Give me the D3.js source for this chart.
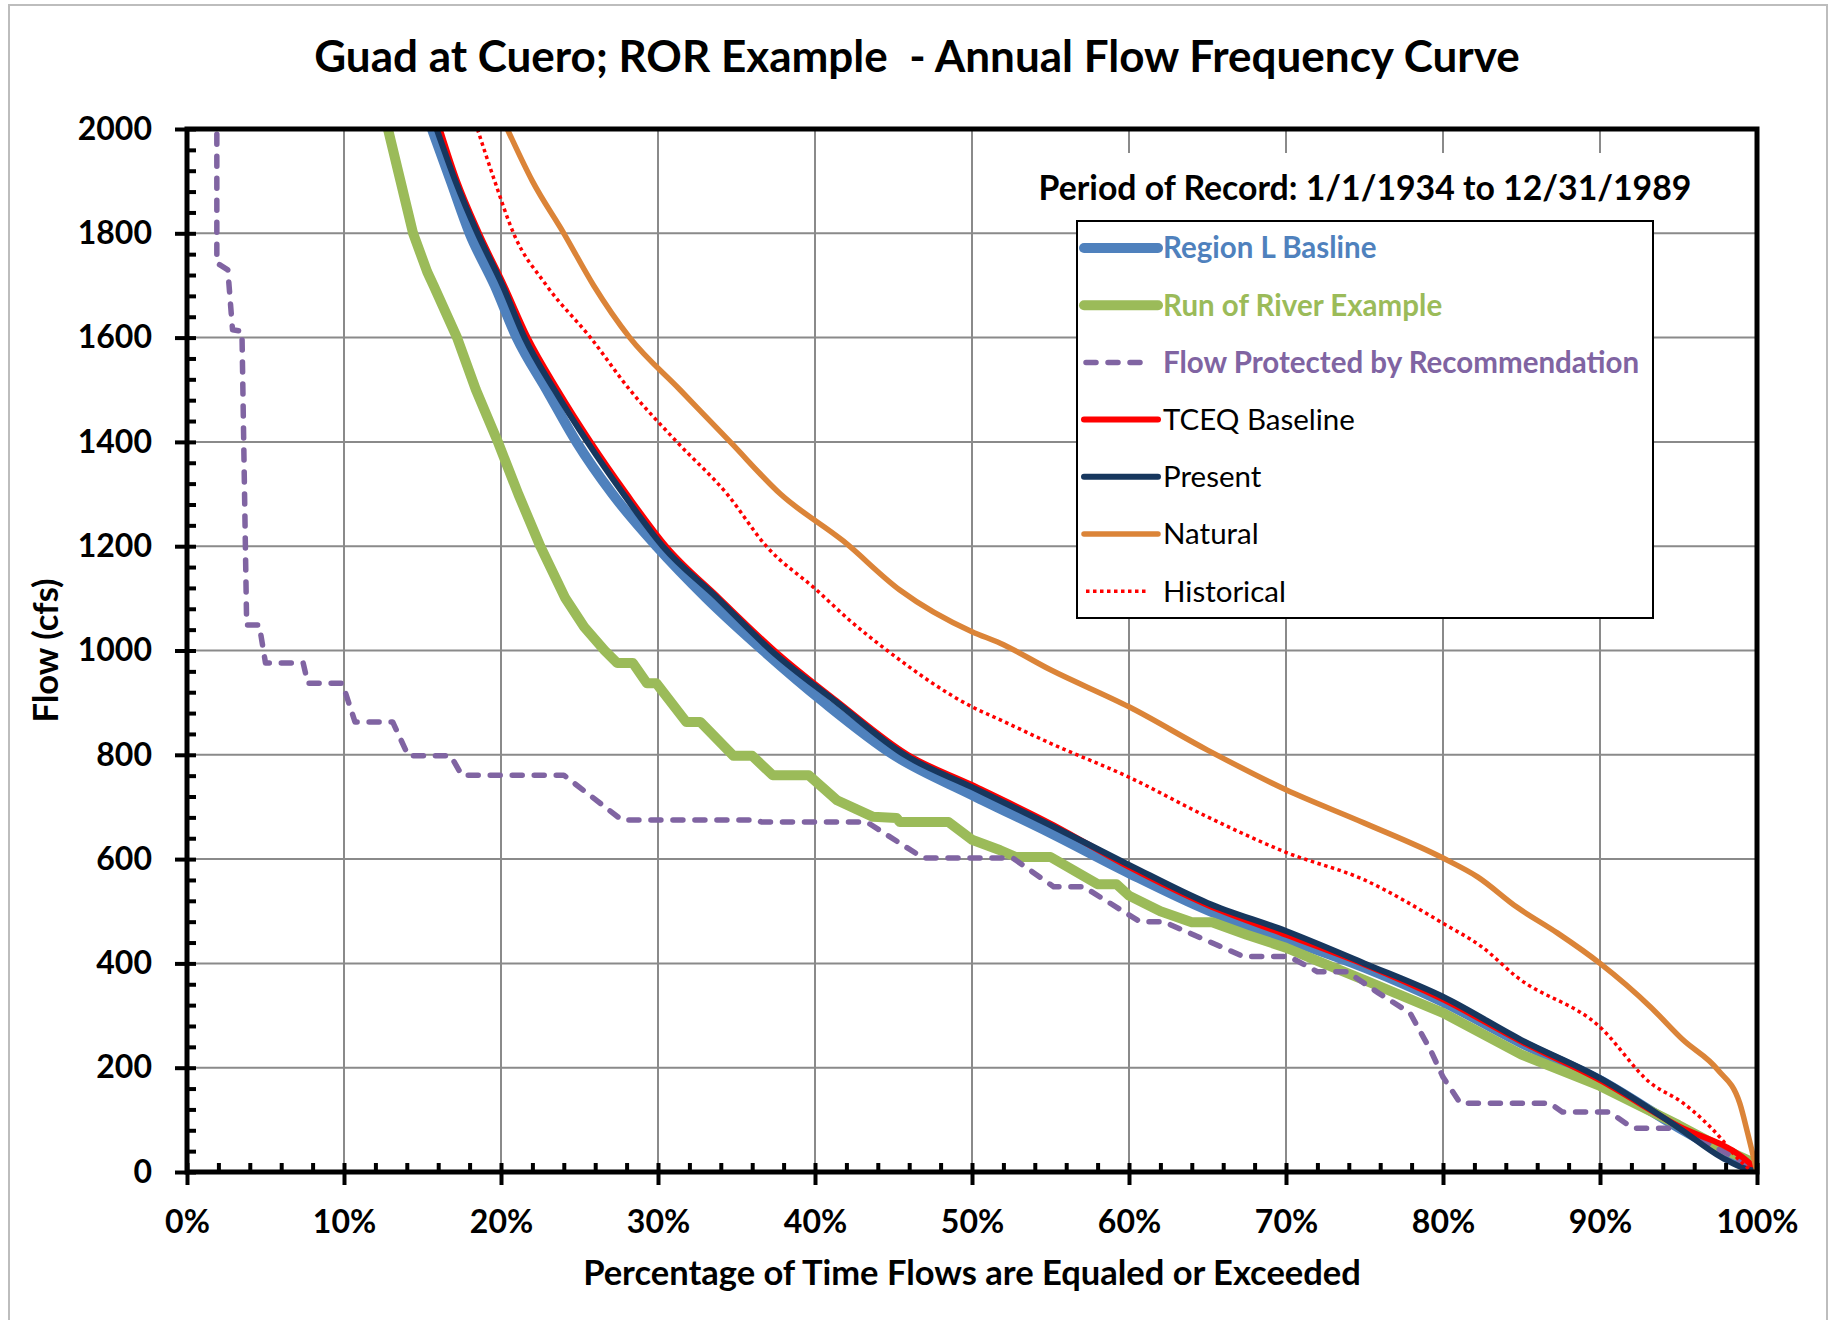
<!DOCTYPE html>
<html>
<head>
<meta charset="utf-8">
<title>Annual Flow Frequency Curve</title>
<script src="https://d3js.org/d3.v7.min.js"></script>
<style>
  body { margin: 0; background: #fff; }
  text { font-family: Lato, "Open Sans", sans-serif; }
</style>
</head>
<body>
<svg id="chart" width="1833" height="1320"></svg>
<script>
// percent of time exceeded / flow (cfs) pairs for each series
var regionPct  = [15.6, 16.8, 18.0, 19.6, 21.0, 22.9, 24.8, 27.1, 29.9, 33.1, 36.7, 40.6, 45.0, 50, 55, 60, 65, 70, 75, 80, 85, 90, 95, 98, 100];
var regionFlow = [2000, 1900, 1800, 1700, 1600, 1500, 1400, 1300, 1200, 1100, 1000, 900, 800, 723, 650, 573, 502, 447, 392, 326, 247, 176, 85, 35, 5];

var rorPct  = [12.8, 13.6, 14.4, 15.3, 15.7, 17.2, 18.4, 19.8, 21.1, 22.5, 24.1, 25.3, 26.6, 27.4, 28.4, 29.3, 29.9, 31.8, 32.7, 34.8, 36.0, 37.3, 39.6, 41.4, 43.7, 45.2, 45.4, 48.5, 50, 51.8, 52.8, 55.0, 58.0, 59.2, 60, 62, 64.0, 65.3, 67.5, 70, 72, 75, 80, 85, 90, 95, 98, 100];
var rorFlow = [2000, 1900, 1800, 1726, 1700, 1600, 1500, 1400, 1300, 1200, 1100, 1045, 1000, 976, 976, 937, 937, 863, 863, 798, 798, 761, 761, 713, 681, 679, 671, 671, 637, 617, 604, 604, 552, 552, 530, 500, 479, 479, 455, 430, 405, 368, 305, 225, 165, 90, 42, 15];

var protPct  = [1.9, 1.9, 2.6, 2.9, 3.5, 3.8, 4.6, 5.0, 7.4, 7.7, 9.9, 10.7, 13.1, 14.1, 16.8, 17.5, 24.0, 27.7, 36.3, 36.6, 43.3, 46.9, 52.6, 55.2, 57.1, 60.7, 62.2, 67.3, 70.2, 72.0, 73.9, 75.9, 77.9, 79.2, 80.0, 81.1, 86.8, 87.6, 90.6, 92.1, 95.1, 97.5, 100];
var protFlow = [1990, 1743, 1730, 1615, 1612, 1049, 1049, 976, 976, 937, 937, 863, 863, 798, 798, 761, 761, 675, 675, 671, 671, 602, 602, 547, 547, 480, 480, 413, 413, 384, 384, 343, 305, 234, 182, 132, 132, 115, 115, 84, 84, 45, 5];

var tceqPct  = [16.1, 17.2, 18.6, 20.2, 21.7, 23.6, 25.7, 28.0, 30.5, 33.9, 37.4, 41.5, 45.9, 50, 55, 60, 65, 70, 75, 80, 85, 90, 95, 99, 100];
var tceqFlow = [2000, 1900, 1800, 1700, 1600, 1500, 1400, 1300, 1200, 1100, 1000, 900, 800, 742, 668, 585, 512, 455, 398, 331, 250, 176, 88, 30, 5];

var presentPct  = [15.9, 17.1, 18.5, 20.1, 21.5, 23.4, 25.5, 27.8, 30.3, 33.8, 37.2, 41.4, 45.7, 50, 55, 60, 65, 70, 75, 80, 85, 90, 95, 97.8, 99.4, 100];
var presentFlow = [2000, 1900, 1800, 1700, 1600, 1500, 1400, 1300, 1200, 1100, 1000, 900, 800, 738, 665, 589, 516, 462, 400, 336, 253, 180, 85, 27, 5, 2];

var naturalPct  = [20.4, 22.0, 24.0, 25.9, 28.2, 31.4, 34.6, 37.8, 41.8, 45.4, 50, 51.8, 55, 60, 65, 70, 75, 80, 82.2, 84.7, 87.3, 90, 93.2, 95.3, 97.5, 98.9, 99.4, 100];
var naturalFlow = [2000, 1900, 1800, 1700, 1600, 1500, 1400, 1300, 1210, 1116, 1036, 1014, 963, 892, 809, 733, 669, 602, 566, 508, 458, 400, 317, 253, 196, 132, 75, 0];

var histPct  = [18.5, 19.6, 20.8, 22.9, 25.7, 28.2, 31.2, 34.4, 36.9, 40.1, 42.2, 44.6, 50, 51.8, 55, 60, 65, 70, 75, 80, 82.5, 84.7, 90, 93.2, 95.3, 97.8, 98.5, 99.7];
var histFlow = [2000, 1900, 1800, 1700, 1600, 1500, 1400, 1300, 1200, 1116, 1058, 1000, 892, 867, 822, 757, 681, 613, 560, 477, 431, 374, 278, 171, 132, 61, 35, 0];

var seriesNames = ["Region L Basline", "Run of River Example", "Flow Protected by Recommendation",
                   "TCEQ Baseline", "Present", "Natural", "Historical"];
var xTicks = [0, 10, 20, 30, 40, 50, 60, 70, 80, 90, 100];
var yTicks = [0, 200, 400, 600, 800, 1000, 1200, 1400, 1600, 1800, 2000];

var chartTitle = "Guad at Cuero; ROR Example  - Annual Flow Frequency Curve";
var periodText = "Period of Record: 1/1/1934 to 12/31/1989";

function zip(a, b) { return a.map(function(v, i) { return [v, b[i]]; }); }

// draw order and styling, same order as the legend.
// stepped series stay linear so the flat runs keep their corners
var series = [
  {name: seriesNames[0], pts: zip(regionPct, regionFlow),   color: "#4F81BD", width: 10,  dash: null,      smooth: true,  txt: "#4F81BD", bold: true},
  {name: seriesNames[1], pts: zip(rorPct, rorFlow),         color: "#9BBB59", width: 10,  dash: null,      smooth: false, txt: "#9BBB59", bold: true},
  {name: seriesNames[2], pts: zip(protPct, protFlow),       color: "#8064A2", width: 5.5, dash: "10,12",   smooth: false, txt: "#8064A2", bold: true},
  {name: seriesNames[3], pts: zip(tceqPct, tceqFlow),       color: "#FF0000", width: 6,   dash: null,      smooth: true,  txt: "#000", bold: false},
  {name: seriesNames[4], pts: zip(presentPct, presentFlow), color: "#17375E", width: 6,   dash: null,      smooth: true,  txt: "#000", bold: false},
  {name: seriesNames[5], pts: zip(naturalPct, naturalFlow), color: "#DB8438", width: 5.5, dash: null,      smooth: true,  txt: "#000", bold: false},
  {name: seriesNames[6], pts: zip(histPct, histFlow),       color: "#FF0000", width: 3.5, dash: "3.5,3.5", smooth: true,  txt: "#000", bold: false}
];

var svg = d3.select("#chart");

var plot = {left: 187, right: 1757, top: 129, bottom: 1172};

var x = d3.scaleLinear().domain([0, 100]).range([plot.left, plot.right]);
var y = d3.scaleLinear().domain([0, 2000]).range([plot.bottom, plot.top]);

// outer chart border
svg.append("rect")
  .attr("x", 9).attr("y", 5)
  .attr("width", 1818).attr("height", 1340)
  .attr("fill", "white")
  .attr("stroke", "#bdbdbd").attr("stroke-width", 2);

// title
svg.append("text")
  .attr("x", 917).attr("y", 72)
  .attr("text-anchor", "middle")
  .style("white-space", "pre")
  .style("font-size", "44px").style("font-weight", "bold")
  .text(chartTitle);

// gridlines
svg.append("g").selectAll("line")
  .data(xTicks.slice(1, -1))
  .enter().append("line")
  .attr("x1", function(d) { return x(d); }).attr("x2", function(d) { return x(d); })
  .attr("y1", plot.top).attr("y2", plot.bottom)
  .attr("stroke", "#8a8a8a").attr("stroke-width", 2);

svg.append("g").selectAll("line")
  .data(yTicks.slice(1, -1))
  .enter().append("line")
  .attr("y1", function(d) { return y(d); }).attr("y2", function(d) { return y(d); })
  .attr("x1", plot.left).attr("x2", plot.right)
  .attr("stroke", "#8a8a8a").attr("stroke-width", 2);

svg.append("clipPath").attr("id", "plotClip")
  .append("rect")
  .attr("x", plot.left).attr("y", plot.top)
  .attr("width", plot.right - plot.left).attr("height", plot.bottom - plot.top);

var lineSmooth = d3.line()
  .x(function(d) { return x(d[0]); })
  .y(function(d) { return y(d[1]); })
  .curve(d3.curveMonotoneX);
var lineStraight = d3.line()
  .x(function(d) { return x(d[0]); })
  .y(function(d) { return y(d[1]); });

svg.append("g").attr("clip-path", "url(#plotClip)")
  .selectAll("path")
  .data(series)
  .enter().append("path")
  .attr("d", function(d) { return d.smooth ? lineSmooth(d.pts) : lineStraight(d.pts); })
  .attr("fill", "none")
  .attr("stroke", function(d) { return d.color; })
  .attr("stroke-width", function(d) { return d.width; })
  .attr("stroke-dasharray", function(d) { return d.dash; })
  .attr("stroke-linecap", function(d) { return d.dash === "10,12" ? "round" : "butt"; })
  .attr("stroke-linejoin", "round");

// plot frame
svg.append("rect")
  .attr("x", plot.left).attr("y", plot.top)
  .attr("width", plot.right - plot.left).attr("height", plot.bottom - plot.top)
  .attr("fill", "none").attr("stroke", "black").attr("stroke-width", 5);

// y axis: labelled major ticks outside, minor ticks inside
var yAxis = svg.append("g")
  .attr("transform", "translate(" + plot.left + ",0)")
  .call(d3.axisLeft(y).tickValues(yTicks).tickSize(12).tickPadding(23).tickFormat(d3.format("d")));
var yMinor = svg.append("g")
  .attr("transform", "translate(" + plot.left + ",0)")
  .call(d3.axisRight(y).tickValues(d3.range(0, 2001, 40)).tickSize(9).tickFormat(""));

// x axis
var xAxis = svg.append("g")
  .attr("transform", "translate(0," + plot.bottom + ")")
  .call(d3.axisBottom(x).tickValues(xTicks).tickSize(13).tickPadding(25)
    .tickFormat(function(d) { return d + "%"; }));
var xMinor = svg.append("g")
  .attr("transform", "translate(0," + plot.bottom + ")")
  .call(d3.axisTop(x).tickValues(d3.range(0, 101, 2)).tickSize(9).tickFormat(""));

[yAxis, yMinor, xAxis, xMinor].forEach(function(g) {
  g.select(".domain").remove();
  g.selectAll(".tick line").attr("stroke", "black").attr("stroke-width", 4);
  g.selectAll("text")
    .style("font-family", "Lato, sans-serif")
    .style("font-size", "32px").style("font-weight", "bold")
    .attr("fill", "black");
});

// axis titles
svg.append("text")
  .attr("x", x(50)).attr("y", 1285)
  .attr("text-anchor", "middle")
  .style("font-size", "34.5px").style("font-weight", "bold")
  .text("Percentage of Time Flows are Equaled or Exceeded");

svg.append("text")
  .attr("transform", "translate(58," + ((plot.top + plot.bottom) / 2) + ") rotate(-90)")
  .attr("text-anchor", "middle")
  .style("font-size", "34.5px").style("font-weight", "bold")
  .text("Flow (cfs)");

// period of record box
svg.append("rect")
  .attr("x", 1025).attr("y", 153)
  .attr("width", 690).attr("height", 68)
  .attr("fill", "white");
svg.append("text")
  .attr("x", 1365).attr("y", 200)
  .attr("text-anchor", "middle")
  .style("font-size", "33.8px").style("font-weight", "bold")
  .text(periodText);

// legend
var legend = svg.append("g").attr("transform", "translate(1077,221)");
legend.append("rect")
  .attr("width", 576).attr("height", 397)
  .attr("fill", "white").attr("stroke", "black").attr("stroke-width", 2);

var rows = legend.selectAll("g.row")
  .data(series)
  .enter().append("g")
  .attr("class", "row")
  .attr("transform", function(d, i) { return "translate(0," + (27 + i * 57.2) + ")"; });

rows.append("line")
  .attr("x1", function(d) { return d.dash ? 9 : 7; })
  .attr("x2", function(d) { return d.dash ? 70 : 81; })
  .attr("stroke", function(d) { return d.color; })
  .attr("stroke-width", function(d) { return d.width; })
  .attr("stroke-dasharray", function(d) { return d.dash; })
  .attr("stroke-linecap", function(d) { return d.dash === "3.5,3.5" ? "butt" : "round"; });

rows.append("text")
  .attr("x", 86).attr("dy", "0.35em")
  .attr("fill", function(d) { return d.txt; })
  .style("font-size", "29.5px")
  .style("font-weight", function(d) { return d.bold ? "bold" : "normal"; })
  .text(function(d) { return d.name; });
</script>
</body>
</html>
